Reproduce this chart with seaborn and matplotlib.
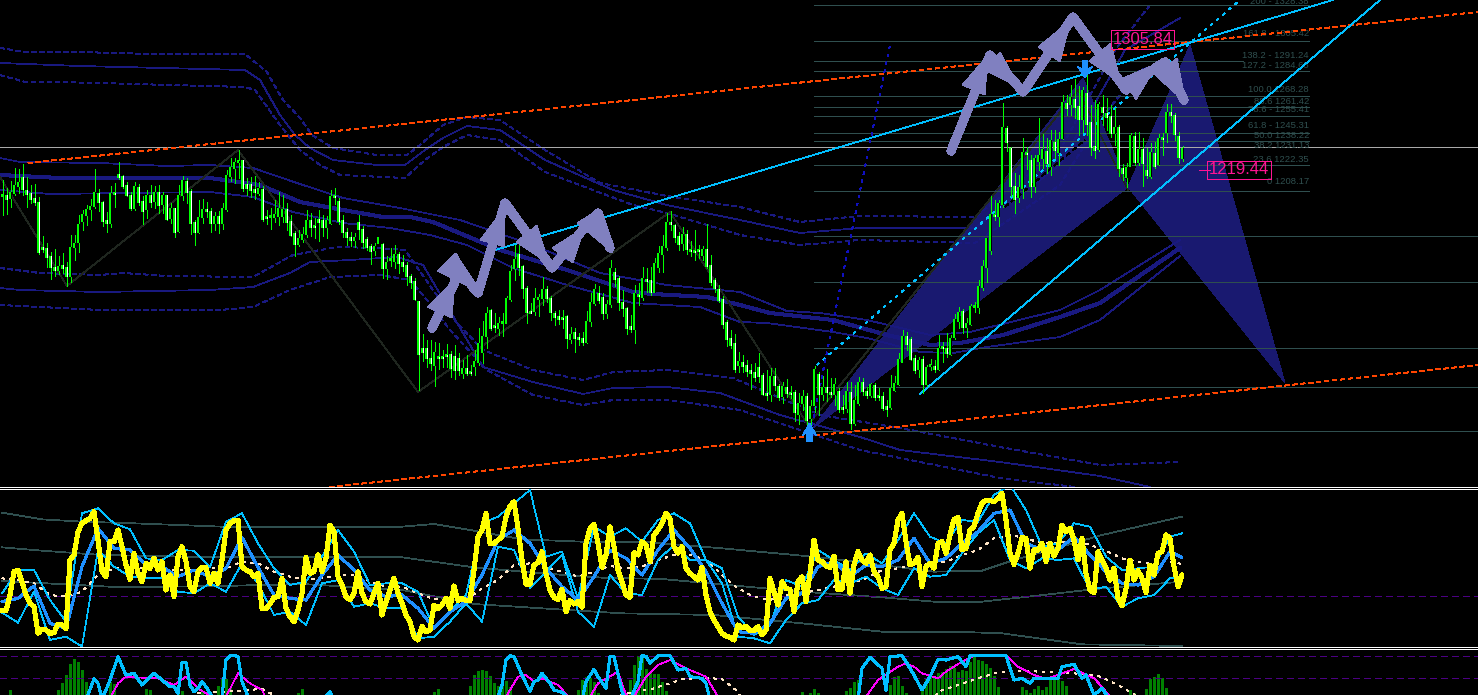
import numpy as np
import matplotlib
matplotlib.use('Agg')
import matplotlib.pyplot as plt
import seaborn as sns

# --- candles, one entry per bar, level = 500 at the top of the price pane
OPENS = [304,305,302,307,314,323,310,307,302,298, 253,252,244,233,230,235,233,224,253,258,
         279,285,291,294,307,298,280,277,307,326, 324,315,305,292,313,299,291,305,299,308,
         296,305,282,292,269,305,319,309,278,268, 283,291,289,277,284,277,291,324,332,338,
         340,316,316,311,307,311,283,283,283,284, 284,291,279,267,256,261,266,280,274,281,
         280,273,277,304,299,280,268,263,260,278, 271,261,254,250,257,256,232,240,239,246,
         238,235,224,219,199,152,152,142,135,143, 143,145,146,144,142,127,132,128,134,138,
         148,164,190,174,172,177,177,201,232,246, 234,212,189,189,201,202,211,202,187,184,
         182,184,161,168,163,162,158,179,197,207, 203,187,196,228,222,198,192,174,171,205,
         203,221,220,208,233,246,253,278,275,264, 257,266,250,249,250,245,251,235,220,211,
         201,178,162,157,135,138,135,130,128,133, 125,107,106,124,114,104,113,107,108,86,
         97,104,82,95,126,106,113,108,106,109, 93,92,108,77,97,118,109,105,115,104,
         104,94,93,110,116,138,164,161,142,131, 141,116,134,134,131,153,152,146,163,179,
         189,173,176,193,193,213,233,250,285,284, 296,372,352,314,303,312,347,340,314,339,
         342,349,334,358,348,362,397,396,401,394, 381,407,378,354,351,393,387,384,367,373,
         332,323,334,364,338,351,330,324,347,336, 362,368,388,385,364,342]
CLOSES = [304,301,308,315,318,311,306,301,298,248, 251,243,233,230,234,232,224,253,257,276,
          286,291,294,308,298,279,277,307,306,323, 314,305,292,314,298,289,305,298,308,295,
          305,281,292,268,305,320,308,277,268,283, 291,289,277,284,277,292,325,333,338,339,
          312,312,310,308,312,281,282,283,286,292, 291,278,265,256,262,266,280,273,273,278,
          273,280,304,303,279,268,263,260,263,271, 258,253,249,254,263,232,238,240,246,237,
          234,224,218,201,146,148,142,137,148,142, 142,144,132,130,130,132,127,127,139,157,
          164,187,172,173,177,177,202,229,241,233, 212,188,187,202,203,211,202,188,183,181,
          181,162,166,162,161,158,179,198,211,200, 187,196,232,221,198,192,172,171,207,204,
          222,219,208,237,247,254,278,276,263,256, 266,251,249,248,249,251,234,218,212,200,
          176,161,155,131,139,134,129,127,123,124, 106,105,124,115,103,114,107,106,88,97,
          104,80,94,131,106,113,108,106,116,91, 91,109,77,100,118,109,105,116,103,103,
          92,91,112,117,141,164,156,141,130,140, 116,133,135,131,152,152,147,162,181,188,
          173,177,194,193,214,234,262,286,284,297, 373,358,314,301,313,348,346,314,342,345,
          351,337,360,350,361,398,392,403,393,381, 410,376,353,350,396,388,383,367,373,332,
          327,333,365,338,351,337,325,348,334,362, 361,388,385,366,343,352]
HIGHS = [320,312,319,332,331,336,323,315,316,303, 264,257,248,251,244,247,238,265,265,285,
         290,295,301,331,311,299,288,314,317,338, 325,318,308,318,316,304,310,315,314,315,
         308,305,297,292,315,324,322,311,280,300, 301,298,292,288,289,297,330,342,342,350,
         340,322,323,324,318,314,290,292,300,308, 305,297,285,269,270,273,290,287,282,290,
         285,284,310,312,302,285,272,268,267,285, 274,263,256,257,263,257,244,252,255,248,
         245,238,226,222,199,166,160,160,158,157, 150,156,149,155,147,140,145,135,150,172,
         179,193,191,187,183,187,204,235,255,256, 235,214,197,212,206,223,214,204,189,190,
         190,185,173,172,167,168,189,207,216,214, 207,200,240,232,224,210,193,185,215,217,
         233,232,233,242,254,265,287,289,276,268, 273,270,259,270,255,254,276,245,222,215,
         204,180,170,166,148,145,140,136,137,147, 127,130,132,132,116,118,121,114,110,107,
         110,107,100,134,128,124,131,122,122,112, 105,118,118,115,123,122,113,117,117,112,
         108,100,125,124,147,170,168,163,145,143, 144,135,141,140,165,158,167,165,186,193,
         191,182,196,198,220,240,262,304,300,300, 397,374,353,327,325,362,353,345,345,382,
         366,362,370,370,368,405,405,415,421,414, 413,431,395,400,398,405,402,395,392,375,
         336,337,367,368,368,362,352,357,358,366, 367,396,396,387,368,354]
LOWS = [285,286,293,305,307,305,293,297,295,246, 248,233,221,224,226,227,214,218,240,248,
        270,275,280,292,289,274,268,273,293,321, 312,304,290,290,295,276,282,293,292,287,
        287,280,277,263,268,300,297,266,255,267, 277,283,268,270,267,271,289,319,317,322,
        309,305,303,301,305,279,276,271,278,275, 278,270,264,244,254,258,263,264,262,259,
        264,262,276,296,276,263,255,254,253,261, 252,250,236,245,257,222,221,234,232,227,
        229,215,212,200,110,139,133,130,114,131, 133,133,123,121,125,122,125,125,125,135,
        137,152,170,168,165,164,177,199,220,225, 202,177,187,185,184,195,198,180,175,176,
        172,152,157,148,155,155,157,174,195,197, 181,182,193,214,190,184,166,168,157,195,
        200,208,205,208,228,228,250,270,258,250, 250,246,244,240,242,240,232,215,208,198,
        172,154,152,128,128,128,124,111,119,118, 105,100,99,110,100,97,103,102,79,76,
        90,75,68,88,85,100,99,103,95,88, 87,88,71,75,95,105,102,103,100,100,
        90,84,91,109,115,138,150,140,127,123, 107,114,130,128,130,138,143,145,161,172,
        167,163,175,188,187,210,218,246,280,274, 293,349,304,287,298,302,331,303,308,330,
        332,327,325,342,335,361,385,385,382,365, 368,365,345,342,349,375,370,363,355,324,
        320,313,334,335,335,314,322,322,332,335, 345,358,378,360,337,339]

# --- envelope bands on the price pane
U1_X = [0,25,80,150,245,267,283,300,312,333,377,407,420,443,467,500,545,600,667,740,800,860,975,1060,1115,1150]
U1_V = [452,448,448,446,446,428,400,382,365,352,345,345,355,375,383,380,350,317,304,293,278,284,283,350,450,495]
U2_X = [0,80,245,260,280,295,310,333,377,405,425,443,467,500,545,613,667,740,800,860,975,1060,1125,1180]
U2_V = [437,434,430,420,385,365,352,340,335,335,350,362,374,370,340,310,295,280,267,272,272,335,450,482]
U3_X = [0,25,60,245,255,280,300,320,340,405,425,443,467,500,545,633,667,740,800,860,975,1060,1100,1140,1180]
U3_V = [425,418,418,413,410,375,350,335,325,322,340,353,365,360,328,295,287,265,255,260,257,315,380,430,440]
C1_X = [0,20,100,167,210,253,297,343,400,460,533,600,667,740,787,820,867,930,970,1060,1100,1180]
C1_V = [342,338,337,334,335,332,317,302,292,280,255,227,215,208,189,187,180,165,168,190,210,260]
C2_X = [0,60,210,260,300,343,383,410,433,500,567,633,653,707,740,770,833,887,930,960,1003,1060,1100,1180]
C2_V = [325,322,322,315,298,290,283,283,278,250,230,208,206,203,195,187,180,165,155,157,165,183,197,252]
C3_X = [0,50,210,253,293,343,390,430,467,513,567,633,700,740,767,833,867,920,953,987,1060,1100,1180]
C3_V = [310,306,308,303,288,277,272,265,255,232,215,197,193,178,177,168,162,148,147,153,163,180,244]
L1_X = [0,40,100,123,167,253,293,337,377,405,433,457,483,533,583,613,667,733,820,900,1000,1100,1180]
L1_V = [232,227,225,227,224,223,245,253,252,250,210,177,150,130,120,128,130,122,85,72,53,35,38]
L2_X = [0,20,100,210,253,290,310,350,397,423,473,483,533,583,613,667,720,780,860,900,1000,1100,1150]
L2_V = [212,210,208,210,213,227,238,240,243,235,150,133,118,106,112,113,107,85,63,50,38,24,13]
L3_X = [0,100,220,253,290,330,380,410,427,450,487,533,583,613,667,740,800,860,1000,1075]
L3_V = [195,190,190,193,210,223,225,220,200,170,130,105,95,100,100,90,70,50,22,13]

ZIGZAG_X = [0,67,238,418,670,808,1078,1128]
ZIGZAG_V = [323,214,350,108,288,75,410,310]

# fibonacci levels
FIB_LABELS = ["200 - 1328.38","161.8 - 1305.42","138.2 - 1291.24","127.2 - 1284.63","100.0 1268.28",
              "88.6 1261.42","78.6 - 1255.41","61.8 - 1245.31","50.0 1238.22","38.2 1231.13",
              "23.6 1222.35","0 1208.17"]
FIB_LABEL_V = [499,467,444,434,410,399,390,375,364,354,340,319]
FIB_SHORT_V = [495,459,439,429,404,393,384,367,359,353,335,309.5]
FIB_LONG_V = [264,218,152,113,69]

# oscillator pane
YELLOW = [108,108,155,225,230,195,155,130,120,40, 53,50,40,42,68,65,55,260,275,345,
          370,378,385,405,320,225,210,315,315,350, 300,245,202,280,220,195,250,235,265,230,
          255,170,215,150,270,300,255,180,165,225, 238,238,190,220,190,260,350,370,378,380,
          240,230,225,210,220,115,115,128,148,150, 205,115,90,75,110,160,268,220,225,275,
          225,265,365,345,210,185,150,140,160,225, 160,135,128,160,190,95,135,170,205,160,
          130,95,75,30,20,60,45,50,125,115, 125,145,115,182,138,145,138,138,230,330,
          350,400,310,310,320,330,390,422,435,355, 260,188,188,245,252,285,220,170,148,142,
          172,105,138,128,135,118,310,355,367,310, 238,275,360,300,230,195,155,148,282,275,
          315,305,255,335,350,370,400,385,300,280, 300,235,220,210,200,238,155,105,80,60,
          40,32,28,20,65,58,60,48,48,60, 35,50,205,165,125,195,175,172,105,195,
          210,135,220,320,260,255,242,238,272,170, 172,255,160,245,285,260,250,275,225,210,
          175,180,290,310,380,400,315,245,250,268, 180,240,250,235,310,315,280,335,382,388,
          290,295,350,360,400,430,440,438,435,445, 460,380,280,247,280,328,325,235,290,290,
          310,255,310,272,295,365,345,355,320,260, 325,220,170,162,285,260,235,200,235,145,
          122,175,260,200,228,205,162,245,215,280, 285,335,325,240,180,215]
COARSE_BARS = list(range(0, 296, 4)) + [295]
MA_BLUE = [135,145,182,70,55,240,355,295,290,245,240,210,230,210,235,328,238,155,145,140,215,275,230,170,150,
           155,115,55,105,135,215,320,350,310,235,180,140,210,290,265,215,290,350,295,225,130,45,40,70,145,
           160,240,255,210,245,240,260,325,250,265,310,345,400,410,310,290,290,330,275,225,190,185,210,285,268]
BAND_UP = [160,230,230,140,75,400,415,370,352,265,260,290,288,238,375,400,310,235,185,195,270,350,285,185,190,
           190,165,55,105,155,370,390,430,470,270,285,145,360,330,355,315,380,400,370,260,235,90,35,65,200,
           180,290,260,230,280,250,320,400,330,310,380,375,455,485,410,300,310,370,360,270,230,235,240,330,340]
BAND_DN = [102,72,165,20,30,0,290,240,210,205,205,165,160,190,165,250,190,95,105,65,190,200,120,130,115,
           115,25,30,75,130,75,300,290,175,225,275,105,60,215,160,155,260,305,260,260,190,30,25,10,80,
           130,140,200,190,210,175,155,235,210,215,280,340,380,260,235,265,260,265,170,180,120,145,155,205,210]
SIGNAL = [205,200,190,155,150,165,215,235,235,235,230,230,230,235,235,255,250,225,210,200,205,215,215,195,180,
          180,160,142,140,140,175,200,245,250,238,225,210,225,242,235,240,260,275,275,260,215,175,150,140,155,
          160,170,180,190,205,230,235,245,250,255,275,290,325,335,325,310,310,320,305,288,265,255,250,255,248]
GREY_A_BARS = [0,10,20,33,55,100,108,118,130,145,160,180,200,210,233,245,253,275,295]
GREY_A = [402,382,375,370,360,360,368,348,322,315,315,295,273,260,225,228,260,335,390]
GREY_B_BARS = [0,10,25,55,100,118,135,150,165,200,220,233,245,258,275,295]
GREY_B = [298,288,275,268,268,238,220,207,203,165,148,135,135,152,175,195]
GREY_C_BARS = [0,30,55,75,100,118,135,155,178,200,220,238,250,270,295]
GREY_C = [197,178,182,188,170,128,115,100,95,70,45,45,40,7,2]
OSC_LEVEL = 151

# histogram pane
HIST_BARS = [2,14,15,16,17,18,19,20,21,27,28,36,37,44,45,50,54,55,56,57,74,75,108,109,
             117,118,119,120,121,122,123,124,125,126,127,144,145,146,147,148,149,
             157,158,159,160,161,162,163,164,165,166,200,202,203,204,211,212,213,214,
             222,223,224,225,226,230,231,232,233,234,235,236,237,238,239,240,241,242,243,244,
             245,246,247,248,249,255,256,257,258,259,260,261,262,263,264,265,266,282,283,
             286,287,288,289,290,291]
HIST_VALS = [15,15,35,60,93,108,98,75,40,40,33,18,15,25,13,13,27,48,48,20,5,18,8,18,
             27,60,72,75,72,57,35,27,33,42,23,15,45,55,52,40,5,
             45,90,117,115,78,65,63,63,40,13,8,5,17,5,13,22,40,45,
             30,55,57,28,5,25,52,55,57,67,70,78,87,82,70,75,72,100,115,105,
             103,93,82,58,25,23,15,7,17,27,15,23,47,55,55,42,27,15,5,
             17,47,55,63,50,20]
CYAN_BARS = [0,21,23,24,25,26,27,29,31,33,35,38,40,42,43,44,45,46,47,48,49,50,51,52,53,55,56,57,58,59,60,61,62,80,82,83,
             124,125,126,127,128,130,132,133,134,135,137,138,140,142,145,146,148,149,151,152,153,155,156,157,159,160,161,162,
             164,167,169,171,172,175,176,177,214,215,217,220,221,222,225,226,228,230,232,234,236,239,241,242,251,253,255,257,
             258,261,264,265,268,270,271,273,275,277,295]
CYAN_VALS = [-15,-15,48,35,-10,15,45,115,60,65,30,65,45,25,25,5,97,97,30,10,20,40,25,5,-15,-5,105,118,118,116,40,10,-15,-15,10,-15,
             -5,30,105,118,115,60,10,40,45,65,35,15,8,-15,-15,40,77,55,20,116,116,10,-15,-15,40,118,116,95,
             118,118,75,80,55,50,35,-15,-15,80,113,80,15,115,118,100,60,15,55,107,105,115,85,118,118,45,50,35,
             50,50,50,85,92,50,60,0,20,-15,-15]
MAGENTA_BARS = [0,27,29,31,35,39,40,43,46,49,53,56,59,62,65,66,126,129,131,133,135,139,142,147,149,154,156,158,161,164,167,171,
                176,177,179,216,219,224,226,228,230,234,236,240,243,251,254,258,261,265,268,273,275,277]
MAGENTA_VALS = [-15,-10,35,55,52,50,45,30,55,20,-10,-5,65,35,15,-10,-5,55,60,40,50,30,-10,-5,35,70,0,-5,55,90,105,80,
                55,35,-5,-5,45,85,95,85,65,50,70,100,118,118,85,60,48,65,78,50,25,-5]
HIST_SIG_BARS = [49,58,65,68,69,154,155,163,170,175,180,184,185,233,234,244,249,256,268,274,279,284]
HIST_SIG_VALS = [5,12,18,0,-15,-15,3,20,47,52,48,10,-15,-15,10,50,68,72,65,58,30,-5]
HIST_LEVELS = [116, 50]

GREEN = '#00ff00'
BAND = '#191980'
FIB = '#2f4f4f'
CYAN = '#00bfff'
RED = '#ff4500'
PINK = '#ff1493'
PERI = '#8080c0'
SHADE = '#191970'
DASHED = (0, (6, 5))
DOTTED = (0, (3, 7))
THIN = 0.72
DIAG = 0.55


def bar_x(bars):
    return 2 + 4 * np.asarray(bars, dtype=float)


def lvl(y):
    # level on the price pane for a height measured from its top
    return 500 - np.asarray(y, dtype=float)


def draw_line(ax, x, y, **kws):
    sns.lineplot(x=list(x), y=list(y), ax=ax, estimator=None, sort=False, errorbar=None, legend=False, **kws)


def draw_candles(ax):
    xs = bar_x(np.arange(len(OPENS))) + 0.5
    ax.vlines(xs, LOWS, HIGHS, color=GREEN, lw=THIN, zorder=5)
    o, c = np.array(OPENS), np.array(CLOSES)
    up = c >= o
    top, bottom = np.maximum(o, c), np.minimum(o, c)
    # green shell with a one pixel core: black for a rising bar, white for a falling one
    ax.bar(xs, np.maximum(top - bottom, 2) + 1, bottom=bottom - 0.5, width=3, color=GREEN, lw=0, zorder=6)
    ax.vlines(xs[up], bottom[up] + 0.5, top[up] + 0.5, color='black', lw=THIN, zorder=7)
    ax.vlines(xs[~up], bottom[~up] + 0.5, top[~up] + 0.5, color='white', lw=THIN, zorder=7)


def draw_peri_arrows(ax, path, heads):
    px, py = zip(*path)
    draw_line(ax, px, lvl(py), color=PERI, lw=6, solid_capstyle='round', solid_joinstyle='round', zorder=9)
    for tri in heads:
        tx, ty = zip(*tri)
        ax.fill(tx, lvl(ty), color=PERI, lw=0, zorder=9)


def main():
    sns.set_theme(style="dark", rc={'axes.facecolor': 'black', 'figure.facecolor': 'black',
                                    'lines.antialiased': False, 'patch.antialiased': False})
    plt.rcParams['font.family'] = ['Liberation Sans', 'DejaVu Sans']

    fig = plt.figure(figsize=(14.78, 6.95), dpi=100)
    ax1 = fig.add_axes([0, 208 / 695, 1, 487 / 695])
    ax2 = fig.add_axes([0, 48 / 695, 1, 158 / 695])
    ax3 = fig.add_axes([0, 0, 1, 46 / 695])

    # ---- price pane
    # harmonic pattern
    ax1.fill([813, 1083, 1128], lvl([428, 78, 187]), color=SHADE, lw=0, zorder=1)
    ax1.fill([1190, 1128, 1285], lvl([45, 187, 383]), color=SHADE, lw=0, zorder=1)

    for x, v in [(U1_X, U1_V), (U3_X, U3_V), (L1_X, L1_V), (L3_X, L3_V)]:
        draw_line(ax1, x, v, color=BAND, lw=DIAG, linestyle=DASHED, zorder=2)
    for x, v in [(U2_X, U2_V), (C1_X, C1_V), (C3_X, C3_V), (L2_X, L2_V)]:
        draw_line(ax1, x, v, color=BAND, lw=DIAG, zorder=2)
    draw_line(ax1, C2_X, C2_V, color=BAND, lw=2.2, zorder=2)

    draw_line(ax1, ZIGZAG_X, ZIGZAG_V, color='#1f261f', lw=DIAG, zorder=2)

    # fibonacci lines and labels
    for v in FIB_SHORT_V:
        end = 1243 if v == 439 else 1309
        draw_line(ax1, [814, end], [v, v], color=FIB, lw=THIN, zorder=3)
    for v in FIB_LONG_V:
        draw_line(ax1, [814, 1478], [v, v], color=FIB, lw=THIN, zorder=3)
    draw_line(ax1, [0, 1478], [353, 353], color='#a9a9a9', lw=THIN, zorder=3)
    for label, v in zip(FIB_LABELS, FIB_LABEL_V):
        ax1.text(1309, v, label, color=FIB, fontsize=6.8, ha='right', va='center', zorder=4, clip_on=True)

    # trend and channel lines
    draw_line(ax1, [28, 1478], lvl([163, 12]), color=RED, lw=DIAG, linestyle=DASHED, zorder=4)
    draw_line(ax1, [330, 1478], lvl([487, 365]), color=RED, lw=DIAG, linestyle=DASHED, zorder=4)
    draw_line(ax1, [495, 1333], lvl([250, 0]), color=CYAN, lw=DIAG, zorder=4)
    draw_line(ax1, [920, 1380], lvl([394, 0]), color=CYAN, lw=DIAG, zorder=4)
    draw_line(ax1, [817, 1240], lvl([365, 0]), color=CYAN, lw=DIAG, linestyle=DOTTED, zorder=4)
    draw_line(ax1, [812, 890], lvl([425, 45]), color='#1010c0', lw=DIAG, linestyle=DOTTED, zorder=4)
    draw_line(ax1, [1005, 1085], lvl([207, 140]), color='black', lw=DIAG, linestyle=DASHED, zorder=4)

    draw_candles(ax1)

    # signal arrows
    ax1.fill([809.5, 802, 806.5, 806.5, 812.5, 812.5, 817], lvl([423, 436, 433, 442, 442, 433, 436]),
             color='#1e90ff', lw=0, zorder=8)
    ax1.fill([1085, 1077, 1082, 1082, 1088, 1088, 1093], lvl([78, 66, 69, 60, 60, 69, 66]),
             color='#1e90ff', lw=0, zorder=8)

    # hand drawn zigzag arrows
    draw_peri_arrows(ax1,
                     [(432, 328), (455, 282), (456, 262), (475, 290), (478, 293), (505, 203),
                      (549, 264), (552, 268), (585, 227), (598, 213), (610, 248)],
                     [[(455, 280), (427, 307), (452, 318)], [(475, 290), (437, 271), (456, 253)],
                      [(505, 207), (480, 240), (505, 247)], [(549, 264), (516, 242), (537, 225)],
                      [(585, 227), (552, 248), (573, 263)], [(613, 253), (577, 223), (598, 210)]])
    draw_peri_arrows(ax1,
                     [(951, 151), (988, 60), (990, 55), (1018, 86), (1023, 92), (1071, 20), (1073, 17),
                      (1121, 83), (1126, 90), (1158, 66), (1165, 62), (1184, 100)],
                     [[(988, 55), (962, 85), (985, 95)], [(1020, 88), (985, 70), (1000, 52)],
                      [(1071, 20), (1038, 47), (1060, 62)], [(1121, 83), (1089, 61), (1111, 43)],
                      [(1158, 63), (1123, 78), (1136, 100)], [(1186, 103), (1155, 75), (1177, 58)]])

    # price tags
    bbox = dict(boxstyle='square,pad=0.1', fc='none', ec=PINK, lw=THIN)
    ax1.text(1142.5, lvl(39.5), "1305.84", color=PINK, fontsize=12, ha='center', va='center', bbox=bbox, zorder=11)
    ax1.text(1239, lvl(170), "1219.44", color=PINK, fontsize=12, ha='center', va='center', bbox=bbox, zorder=11)
    draw_line(ax1, [1199, 1210], lvl([170, 170]), color=PINK, lw=THIN, zorder=11)

    # ---- oscillator pane
    draw_line(ax2, bar_x(GREY_A_BARS), GREY_A, color=FIB, lw=DIAG, zorder=2)
    draw_line(ax2, bar_x(GREY_B_BARS), GREY_B, color=FIB, lw=DIAG, zorder=2)
    draw_line(ax2, bar_x(GREY_C_BARS), GREY_C, color=FIB, lw=DIAG, zorder=2)
    draw_line(ax2, [0, 1478], [OSC_LEVEL, OSC_LEVEL], color='#4b0082', lw=THIN, linestyle=DASHED, zorder=2)
    draw_line(ax2, bar_x(COARSE_BARS), SIGNAL, color='#ffe4c4', lw=DIAG, linestyle=DOTTED, zorder=3)
    draw_line(ax2, bar_x(COARSE_BARS), BAND_UP, color=CYAN, lw=DIAG, zorder=3)
    draw_line(ax2, bar_x(COARSE_BARS), BAND_DN, color=CYAN, lw=DIAG, zorder=3)
    draw_line(ax2, bar_x(COARSE_BARS), MA_BLUE, color='#1e90ff', lw=1.5, zorder=4)
    draw_line(ax2, bar_x(np.arange(len(YELLOW))), YELLOW, color='#ffff00', lw=2.9, zorder=5)

    # ---- histogram pane
    sns.barplot(x=bar_x(HIST_BARS), y=HIST_VALS, native_scale=True, width=0.75, color='#008000', saturation=1,
                errorbar=None, edgecolor='none', linewidth=0, ax=ax3, zorder=2)
    for v in HIST_LEVELS:
        draw_line(ax3, [0, 1478], [v, v], color='#4b0082', lw=THIN, linestyle=DASHED, zorder=3)
    draw_line(ax3, bar_x(HIST_SIG_BARS), HIST_SIG_VALS, color='#ffe4c4', lw=DIAG, linestyle=DOTTED, zorder=4)
    draw_line(ax3, bar_x(MAGENTA_BARS), MAGENTA_VALS, color='#ff00ff', lw=DIAG, zorder=4)
    draw_line(ax3, bar_x(CYAN_BARS), CYAN_VALS, color=CYAN, lw=1.5, zorder=5)

    # ---- frame
    limits = [(ax1, 13, 500), (ax2, -1, 473), (ax3, 0, 138)]
    for ax, lo, hi in limits:
        ax.set_xlim(0, 1478)
        ax.set_ylim(lo, hi)
        ax.set_xticks([])
        ax.set_yticks([])
        ax.set_xlabel('')
        ax.set_ylabel('')
        ax.grid(False)
        for side, spine in ax.spines.items():
            spine.set_visible(False)
            spine.set_color('white')
            spine.set_linewidth(THIN)
    ax1.spines['bottom'].set_visible(True)
    ax2.spines['top'].set_visible(True)
    ax2.spines['bottom'].set_visible(True)
    ax3.spines['top'].set_visible(True)

    fig.savefig('out.png', dpi=100, facecolor='black')


if __name__ == '__main__':
    main()
